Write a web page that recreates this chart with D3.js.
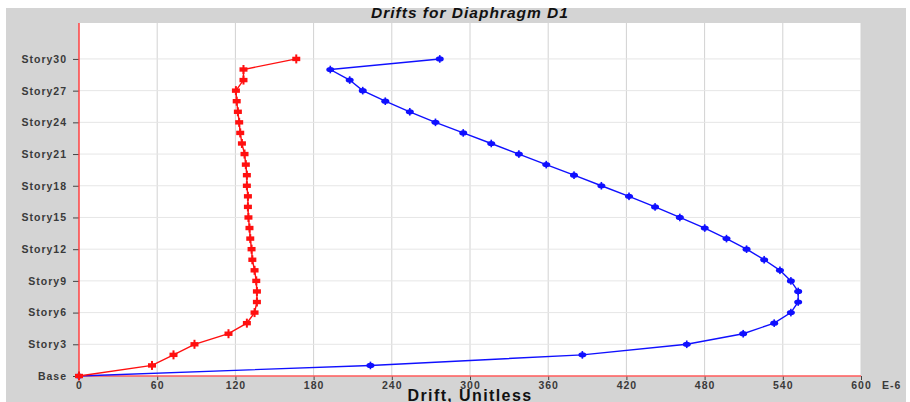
<!DOCTYPE html>
<html>
<head>
<meta charset="utf-8">
<script src="https://cdn.jsdelivr.net/npm/d3@7"></script>
<style>
  body { margin: 0; background: #fff; }
  svg { display: block; font-family: "Liberation Sans", Arial, sans-serif; }
</style>
</head>
<body>
<svg id="chart" width="910" height="402"></svg>
<script>
// story index 0 (Base) .. 30 (Story30), drift in E-6
const stories = d3.range(0, 31);
const storyTicks = [0, 3, 6, 9, 12, 15, 18, 21, 24, 27, 30];
const driftTicks = [0, 60, 120, 180, 240, 300, 360, 420, 480, 540, 600];

const redDrift = [0, 56, 72.5, 88.6, 114.7, 128.8, 134.7, 136.5, 136.5, 136, 134.7,
  133, 132.4, 131.4, 130.8, 130, 129.6, 129.6, 128.8, 128.8, 128, 127, 125,
  123.7, 122.9, 121.9, 121, 120.4, 126.2, 126.2, 166.7];

const blueDrift = [0, 223.6, 386.2, 466.3, 509.6, 533.4, 546.2, 551.8, 551.8, 546.2, 537.8,
  525.7, 512.2, 496.8, 480.1, 461, 442, 422, 400.8, 379.8, 358.5, 337.5, 316.3,
  294.8, 273.5, 253.8, 235, 217.7, 207.7, 192.8, 276.8];

const storyLabel = s => s === 0 ? "Base" : "Story" + s;

const svg = d3.select("#chart");
const margin = {top: 23, left: 79, right: 861, bottom: 376};

svg.append("rect").attr("x", 6).attr("y", 8).attr("width", 900).attr("height", 394).attr("fill", "#d4d4d4");
svg.append("rect").attr("x", margin.left).attr("y", margin.top)
  .attr("width", margin.right - margin.left).attr("height", margin.bottom - margin.top).attr("fill", "#fff");

const x = d3.scaleLinear().domain([0, 600]).range([margin.left, margin.right]);
const y = d3.scaleLinear().domain([0, 33.4]).range([margin.bottom, margin.top]);

// grid
svg.append("g").selectAll("line").data(driftTicks.slice(1)).join("line")
  .attr("x1", d => x(d)).attr("x2", d => x(d))
  .attr("y1", margin.top).attr("y2", margin.bottom)
  .attr("stroke", "#d2d2d2").attr("stroke-width", 1);
svg.append("g").selectAll("line").data(storyTicks.slice(1)).join("line")
  .attr("x1", margin.left).attr("x2", margin.right)
  .attr("y1", d => y(d)).attr("y2", d => y(d))
  .attr("stroke", "#e6e6e6").attr("stroke-width", 1);

// axes
const xAxis = svg.append("g").attr("transform", `translate(0,${margin.bottom})`)
  .call(d3.axisBottom(x).tickValues(driftTicks).tickSize(4).tickPadding(2));
const yAxis = svg.append("g").attr("transform", `translate(${margin.left},0)`)
  .call(d3.axisLeft(y).tickValues(storyTicks).tickFormat(storyLabel).tickSize(6).tickPadding(6));

[xAxis, yAxis].forEach(a => {
  a.select(".domain").remove();
  a.selectAll(".tick line").attr("stroke", "#444");
  a.selectAll(".tick text").attr("fill", "#3a3a3a")
    .style("font-size", "10.5px").style("font-weight", "bold").style("letter-spacing", "1px");
});

svg.append("line").attr("x1", margin.left).attr("x2", margin.left)
  .attr("y1", margin.top).attr("y2", margin.bottom).attr("stroke", "#ff4040").attr("stroke-width", 1.5);
svg.append("line").attr("x1", margin.left).attr("x2", margin.right)
  .attr("y1", margin.bottom).attr("y2", margin.bottom).attr("stroke", "#ff5a5a").attr("stroke-width", 1.5);

// series
function drawSeries(values, color, marker) {
  const pts = stories.map(s => [x(values[s]), y(s)]);
  svg.append("path").datum(pts)
    .attr("d", d3.line())
    .attr("fill", "none").attr("stroke", color).attr("stroke-width", 1.4);
  const g = svg.append("g").attr("fill", color);
  pts.forEach(p => {
    if (marker === "rect") {
      g.append("rect").attr("x", p[0] - 4).attr("y", p[1] - 2.2).attr("width", 8).attr("height", 4.4);
      g.append("rect").attr("x", p[0] - 1).attr("y", p[1] - 4.5).attr("width", 2).attr("height", 9);
    } else {
      g.append("ellipse").attr("cx", p[0]).attr("cy", p[1]).attr("rx", 4).attr("ry", 2.6);
      g.append("rect").attr("x", p[0] - 0.8).attr("y", p[1] - 3.8).attr("width", 1.6).attr("height", 7.6);
    }
  });
}
drawSeries(blueDrift, "#1010ff", "ellipse");
drawSeries(redDrift, "#ff1010", "rect");

// texts
svg.append("text").attr("x", 470).attr("y", 18).attr("text-anchor", "middle")
  .style("font-size", "15.5px").style("font-weight", "bold").style("font-style", "italic")
  .style("letter-spacing", "1px").attr("fill", "#111").text("Drifts for Diaphragm D1");
svg.append("text").attr("x", 470).attr("y", 401).attr("text-anchor", "middle")
  .style("font-size", "16px").style("font-weight", "bold").style("letter-spacing", "1.4px")
  .attr("fill", "#111").text("Drift, Unitless");
svg.append("text").attr("x", 882).attr("y", 389)
  .style("font-size", "10.5px").style("font-weight", "bold").style("letter-spacing", "1px")
  .attr("fill", "#3a3a3a").text("E-6");
</script>
</body>
</html>
